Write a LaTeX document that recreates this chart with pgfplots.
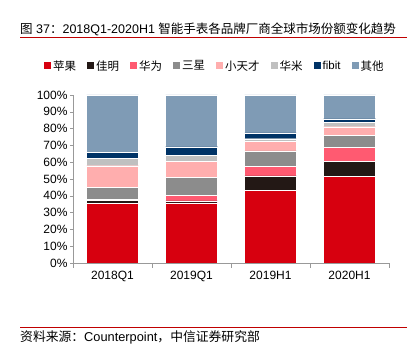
\documentclass[border=0pt]{standalone}
\usepackage{pgfplots}
\pgfplotsset{compat=1.18}
\usepackage{pgfplotstable}
\usepackage{fontspec}
\setmainfont{Liberation Sans}
\newfontfamily\cjk{Noto Sans CJK SC}
\definecolor{cApple}{HTML}{D7000F}
\definecolor{cGarmin}{HTML}{231815}
\definecolor{cHuawei}{HTML}{FF5A71}
\definecolor{cSamsung}{HTML}{8C8C8C}
\definecolor{cXtc}{HTML}{FFAEAE}
\definecolor{cXiaomi}{HTML}{C0C0C0}
\definecolor{cFitbit}{HTML}{003366}
\definecolor{cOther}{HTML}{7F9BB5}
\definecolor{titlered}{HTML}{C00000}
\pgfplotstableread{
x apple garmin huawei samsung xtc xiaomi fitbit other
0 35.6 1.6 0.8 6.9 13.0 4.3 3.8 34.0
1 35.8 1.2 3.2 10.9 9.3 3.6 5.2 30.8
2 43.1 8.8 5.6 9.3 5.6 1.6 3.5 22.5
3 51.5 9.1 8.4 6.9 5.2 2.5 2.3 14.1
}\datatable
\begin{document}
\begin{tikzpicture}[x=1pt,y=1pt]
\useasboundingbox (0,0) rectangle (412,352);
\node[anchor=base west, inner sep=0, font=\fontsize{12.5}{14}\selectfont] at (20,318) {{\cjk 图} 37{\cjk ：}2018Q1-2020H1 {\cjk 智能手表各品牌厂商全球市场份额变化趋势}};
\draw[titlered, line width=0.8pt] (20,314.7) -- (407,314.7);
\draw[titlered, line width=0.6pt] (20,25) -- (407,25);
\node[anchor=base west, inner sep=0, font=\fontsize{12.8}{14}\selectfont] at (20,10) {{\cjk 资料来源：}Counterpoint{\cjk ，中信证券研究部}};
\begin{axis}[
  at={(73pt,89pt)}, anchor=south west, scale only axis,
  width=316pt, height=168pt,
  ybar stacked, bar width=52pt,
  ymin=0, ymax=100, xmin=-0.5, xmax=3.5,
  xtick={0,1,2,3}, xticklabels={2018Q1,2019Q1,2019H1,2020H1},
  minor xtick={-0.5,0.5,1.5,2.5,3.5},
  major x tick style={draw=none},
  ytick={0,10,...,100},
  yticklabels={0\%,10\%,20\%,30\%,40\%,50\%,60\%,70\%,80\%,90\%,100\%},
  axis x line*=bottom, axis y line*=left,
  axis line style={draw=black!40},
  tick style={draw=black!40},
  tick align=outside,
  major tick length=3pt, minor tick length=5pt,
  xticklabel style={font=\fontsize{12}{13}\selectfont, yshift=-2pt},
  yticklabel style={font=\fontsize{12}{13}\selectfont, xshift=1pt},
  /pgf/number format/assume math mode=true,
  legend columns=8,
  legend style={draw=none, fill=none, at={(0.449,1.173)}, anchor=center,
    font=\fontsize{11.5}{13}\selectfont\cjk,
    /tikz/every even column/.append style={column sep=9pt},
    inner sep=0pt},
  legend image code/.code={\path[#1,draw=none] (0pt,-3.5pt) rectangle (7pt,3.5pt);},
  every axis plot/.append style={draw=white, line width=0.3pt},
]
\addplot[fill=cApple] table[x=x,y=apple]{\datatable};
\addplot[fill=cGarmin] table[x=x,y=garmin]{\datatable};
\addplot[fill=cHuawei] table[x=x,y=huawei]{\datatable};
\addplot[fill=cSamsung] table[x=x,y=samsung]{\datatable};
\addplot[fill=cXtc] table[x=x,y=xtc]{\datatable};
\addplot[fill=cXiaomi] table[x=x,y=xiaomi]{\datatable};
\addplot[fill=cFitbit] table[x=x,y=fitbit]{\datatable};
\addplot[fill=cOther] table[x=x,y=other]{\datatable};
\legend{苹果,佳明,华为,三星,小天才,华米,{\rmfamily fibit},其他}
\end{axis}
\end{tikzpicture}
\end{document}
